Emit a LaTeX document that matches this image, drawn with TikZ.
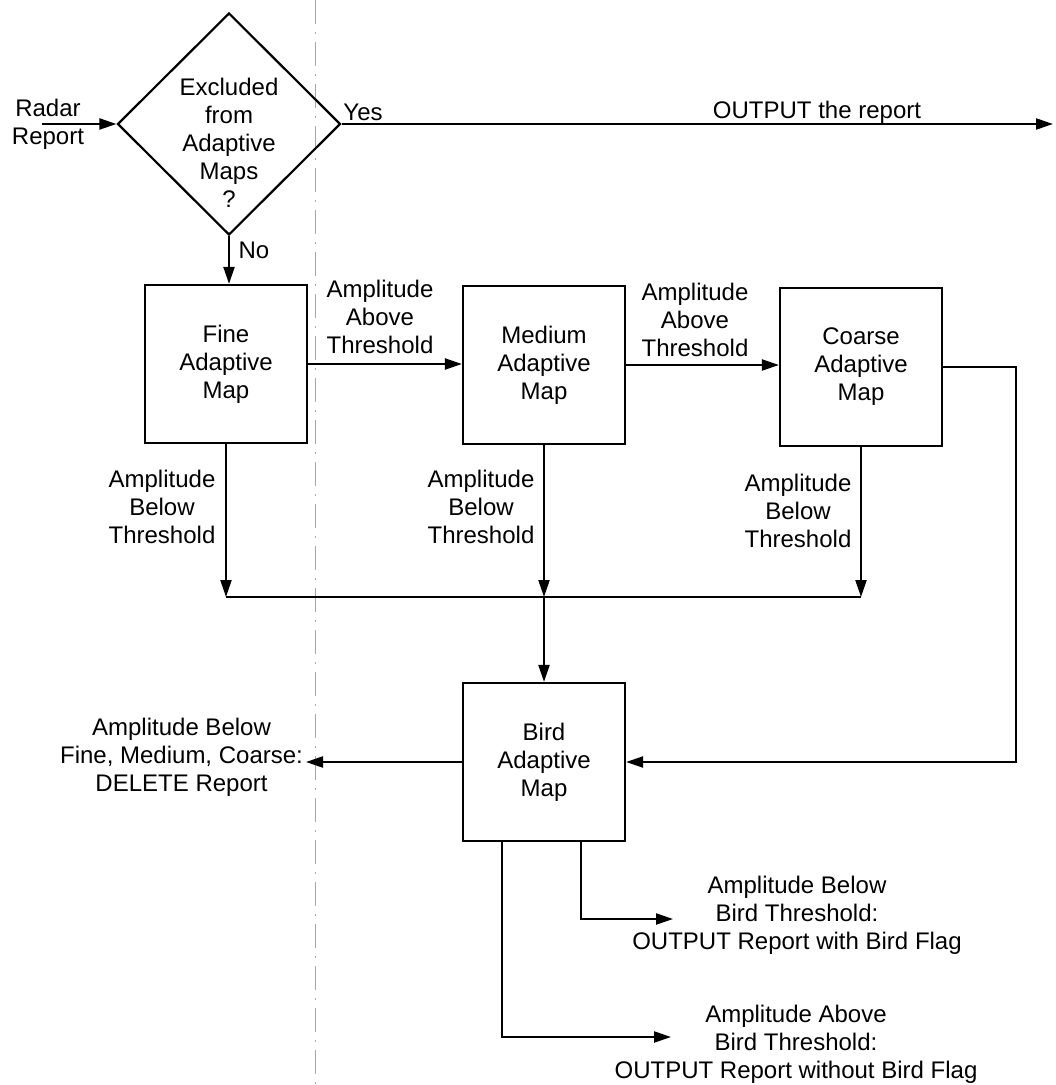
\documentclass[tikz,border=0pt]{standalone}
\usepackage{fontspec}
\setmainfont{Liberation Sans}
\usetikzlibrary{positioning}
\usetikzlibrary{arrows.meta}
\usetikzlibrary{shapes.geometric}

\begin{document}
\begin{tikzpicture}[x=0.5pt, y=-0.5pt, ->, >={Triangle[length=8.5pt,width=5.5pt]}, line width=1.1pt, font=\fontsize{12}{14}\selectfont]
    \tikzstyle{block}=[draw=black,rectangle,fill=none,minimum width=81pt,minimum height=79pt,align=center,inner sep=0pt]
    \tikzstyle{decision}=[draw=black,diamond,fill=none,minimum width=111.5pt,minimum height=111pt,inner sep=0pt]
    \tikzstyle{txt}=[align=center,inner sep=1pt]
    \tikzstyle{fold}=[-,line width=0.4pt,draw=black!35,dash pattern=on 12pt off 4pt on 1pt off 4pt]

    \useasboundingbox (0,0) rectangle (1055,1085);
    \draw[fold] (315,0) -- (315,1085);

    % decision
    \node[decision] (excl) at (229,124) {};
    \node[txt] (excltxt) at (229,143) {Excluded\\from\\Adaptive\\Maps\\?};
    \node[txt] (radar) at (48,124) {Radar\\Report};
    \coordinate (rin) at (42,124);
    \coordinate (rout) at (1053,124);
    \node[txt] (yes) at (363,112) {Yes};
    \node[txt] (no) at (254,250) {No};
    \node[txt] (outtxt) at (817,112) {OUTPUT the report};

    \draw (rin) -- (excl.west);
    \draw (excl.east) -- (rout);

    % adaptive maps
    \node[block] (fine) at (226,364) {Fine\\Adaptive\\Map};
    \node[block] (medium) at (544,365) {Medium\\Adaptive\\Map};
    \node[block] (coarse) at (861,367) {Coarse\\Adaptive\\Map};
    \node[block] (bird) at (544,762) {Bird\\Adaptive\\Map};

    \draw (excl.south) -- (excl.south |- fine.north);
    \draw (fine.east) -- (fine.east -| medium.west);
    \draw (medium.east) -- (medium.east -| coarse.west);

    \node[txt] (abovefm) at (380,317) {Amplitude\\Above\\Threshold};
    \node[txt] (abovemc) at (695,320) {Amplitude\\Above\\Threshold};
    \node[txt] (belowf) at (162,507) {Amplitude\\Below\\Threshold};
    \node[txt] (belowm) at (481,507) {Amplitude\\Below\\Threshold};
    \node[txt] (belowc) at (798,511) {Amplitude\\Below\\Threshold};

    % collector
    \coordinate (merge) at (544,597);
    \draw (fine.south) -- (fine.south |- merge);
    \draw (medium.south) -- (merge);
    \draw (coarse.south) -- (coarse.south |- merge);
    \draw[-] (fine.south |- merge) -- (coarse.south |- merge);
    \draw (merge) -- (bird.north);

    \coordinate (loop) at (1016,0);
    \draw (coarse.east) -- (coarse.east -| loop) |- (bird.east);

    % bird outputs
    \node[txt, anchor=east] (delete) at (306,757) {Amplitude Below\\Fine, Medium, Coarse:\\DELETE Report};
    \draw (bird.west) -- (bird.west -| delete.east);

    \node[txt] (withflag) at (797,915) {Amplitude Below\\Bird Threshold:\\OUTPUT Report with Bird Flag};
    \node[txt] (noflag) at (796,1044) {Amplitude Above\\Bird Threshold:\\OUTPUT Report without Bird Flag};
    \coordinate (b1) at (581,0);
    \coordinate (b2) at (502,0);
    \coordinate (e1) at (673,919);
    \coordinate (e2) at (671,1037);
    \draw (bird.south -| b1) |- (e1);
    \draw (bird.south -| b2) |- (e2);
\end{tikzpicture}
\end{document}
